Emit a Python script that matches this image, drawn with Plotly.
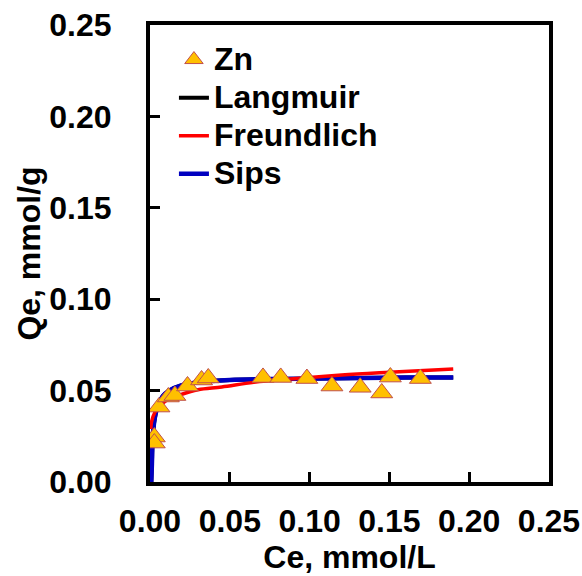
import plotly.graph_objects as go

# Measured equilibrium data for Zn
ce_zn = [0.0027, 0.0027, 0.0056, 0.0115, 0.0156, 0.0235, 0.0323, 0.0365,
         0.0708, 0.0819, 0.0983, 0.1140, 0.1317, 0.1452, 0.1506, 0.1694]
qe_zn = [0.0246, 0.0213, 0.0410, 0.0465, 0.0473, 0.0525, 0.0558, 0.0569,
         0.0572, 0.0572, 0.0566, 0.0525, 0.0518, 0.0487, 0.0574, 0.0566]

# Model curves
ce_lang = [0.0008, 0.0012, 0.0015, 0.002, 0.003, 0.005, 0.008, 0.012, 0.02,
           0.03, 0.05, 0.08, 0.12, 0.16, 0.19]
qe_lang = [0.0, 0.010, 0.020, 0.028, 0.035, 0.042, 0.047, 0.050, 0.053,
           0.0545, 0.0558, 0.0564, 0.0568, 0.0571, 0.0572]

ce_freu = [0.0005, 0.001, 0.003, 0.006, 0.010, 0.020, 0.030, 0.045, 0.065,
           0.090, 0.120, 0.150, 0.190]
qe_freu = [0.029, 0.033, 0.038, 0.0415, 0.0445, 0.048, 0.0505, 0.052,
           0.0545, 0.0565, 0.0585, 0.0600, 0.0618]

ce_sips = [0.0008, 0.0012, 0.0015, 0.002, 0.003, 0.005, 0.008, 0.012, 0.02,
           0.03, 0.05, 0.08, 0.12, 0.16, 0.19]
qe_sips = [0.0, 0.010, 0.020, 0.028, 0.035, 0.042, 0.047, 0.050, 0.053,
           0.0545, 0.0558, 0.0564, 0.0568, 0.0571, 0.0572]

tick_vals = [0.0, 0.05, 0.10, 0.15, 0.20, 0.25]
tick_text = ["0.00", "0.05", "0.10", "0.15", "0.20", "0.25"]

FONT = "Liberation Sans, Arial, sans-serif"
FS = 32          # text size for ticks, titles and legend labels
LEG_FS = 27      # legend base size (sets the row spacing)


def leg(name):
    return f'<span style="font-size:{FS}px">{name}</span>'


fig = go.Figure()
fig.add_trace(go.Scatter(x=ce_lang, y=qe_lang, mode="lines", name=leg("Langmuir"),
                         line=dict(color="black", width=4, shape="spline"),
                         legendrank=2))
fig.add_trace(go.Scatter(x=ce_sips, y=qe_sips, mode="lines", name=leg("Sips"),
                         line=dict(color="#0000C0", width=4.5, shape="spline"),
                         legendrank=4))
fig.add_trace(go.Scatter(x=ce_freu, y=qe_freu, mode="lines", name=leg("Freundlich"),
                         line=dict(color="#FF0000", width=3.5, shape="spline"),
                         legendrank=3))
fig.add_trace(go.Scatter(x=ce_zn, y=qe_zn, mode="markers", name=leg("Zn"),
                         marker=dict(symbol="triangle-up", size=19,
                                     color="#FFC000",
                                     line=dict(color="#C0504D", width=1)),
                         legendrank=1))

axis_common = dict(
    range=[0, 0.25], tickvals=tick_vals, ticktext=tick_text,
    showline=True, linecolor="black", linewidth=4, mirror=True,
    ticks="inside", ticklen=10, tickwidth=3, tickcolor="black",
    showgrid=False, zeroline=False, automargin=False,
    tickfont=dict(family=FONT, size=FS, color="black", weight="bold"),
)

fig.update_xaxes(**axis_common,
                 title=dict(text="Ce, mmol/L", standoff=0,
                            font=dict(family=FONT, size=FS, color="black",
                                      weight="bold")),
                 ticklabelstandoff=8)
fig.update_yaxes(**axis_common,
                 title=dict(text="Qe, mmol/g", standoff=0,
                            font=dict(family=FONT, size=FS, color="black",
                                      weight="bold")),
                 ticklabelstandoff=28)

fig.update_layout(
    width=582, height=576,
    margin=dict(l=150, r=33, t=25, b=94),
    plot_bgcolor="white", paper_bgcolor="white",
    showlegend=True,
    legend=dict(x=0.06, y=0.977, xanchor="left", yanchor="top",
                bgcolor="rgba(0,0,0,0)", borderwidth=0,
                font=dict(family=FONT, size=LEG_FS, color="black", weight="bold"),
                tracegroupgap=0, itemwidth=30),
)

fig.write_html("out.html")
